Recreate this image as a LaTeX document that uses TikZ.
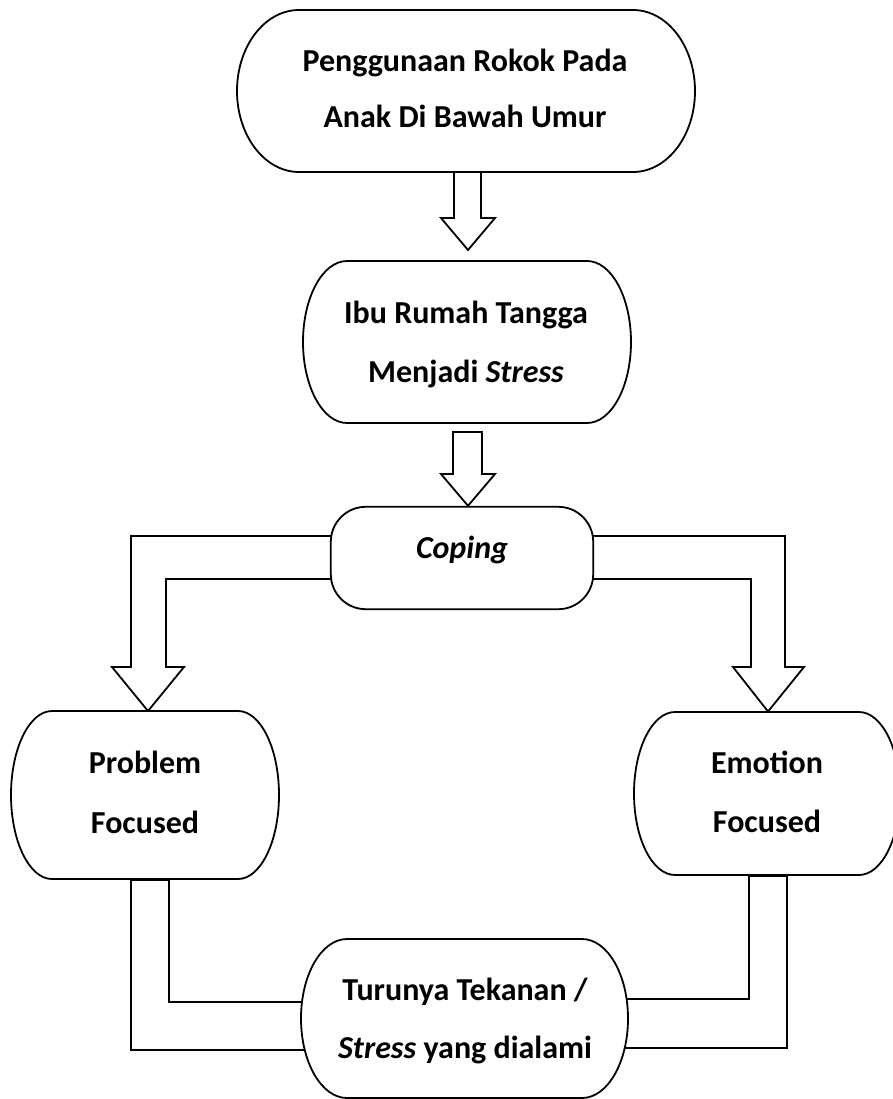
\documentclass[tikz,border=0pt]{standalone}
\usepackage{fontspec}
\setmainfont{Carlito}
\usetikzlibrary{calc}
\newcommand\capsule[4]{%
  \draw[boxline] ([shift={({-(#2)+(#4)},{#3})}]#1) -- ([shift={({(#2)-(#4)},{#3})}]#1)
    arc[start angle=90,end angle=-90,x radius=#4,y radius=#3]
    -- ([shift={({-(#2)+(#4)},{-(#3)})}]#1)
    arc[start angle=270,end angle=90,x radius=#4,y radius=#3] -- cycle;}
\begin{document}
\begin{tikzpicture}[x=1pt,y=1pt,
  ln/.style={line width=1.8pt, line join=miter},
  boxline/.style={ln, draw=black, fill=white},
  arrowshape/.style={ln, draw=black, fill=white},
  lbl/.style={font=\fontsize{32}{38}\selectfont\bfseries, inner sep=0pt, anchor=base},
]
\useasboundingbox (0,0) rectangle (892,-1099);
% box anchors
\coordinate (b1) at (466,-91);
\coordinate (b2) at (467,-342);
\node[minimum width=262pt, minimum height=102pt, inner sep=0pt] (cop) at (462,-558) {};
\coordinate (pf) at (145,-795);
\coordinate (ef) at (767,-793.5);
\coordinate (tb) at (464.5,-1018.5);

% block arrows
\draw[arrowshape] ($(b1)+(-12,-81)$) -- ($(b1)+(-12,-127)$) -- ($(b1)+(-25,-127)$)
  -- ($(b2)+(1,92)$) -- ($(b1)+(29,-127)$) -- ($(b1)+(15,-127)$) -- ($(b1)+(15,-81)$);
\draw[arrowshape] ($(b2)+(-14,-90)$) -- ($(b2)+(-14,-132)$) -- ($(b2)+(-26,-132)$)
  -- ($(cop.north)+(6,1)$) -- ($(b2)+(28,-132)$) -- ($(b2)+(15,-132)$) -- ($(b2)+(15,-90)$) -- cycle;
% elbow arrows from Coping
\draw[arrowshape] ($(cop.west)+(0,22)$) -| ($(pf)+(-14,128)$) -- ++(-19,0)
  -- ($(pf)+(3,84)$) -- ($(pf)+(39,128)$) -- ++(-18,0) |- ($(cop.west)+(0,-21)$);
\draw[arrowshape] ($(cop.east)+(0,22)$) -| ($(ef)+(18,126.5)$) -- ++(19,0)
  -- ($(ef)+(1,82)$) -- ($(ef)+(-34,126.5)$) -- ++(18,0) |- ($(cop.east)+(0,-21)$);
% connectors to the bottom box
\draw[arrowshape] ($(tb)+(-160,16.5)$) -| ($(pf)+(24,-85)$) -- ($(pf)+(-14,-85)$) |- ($(tb)+(-160,-31.5)$);
\draw[arrowshape] ($(tb)+(160,19.5)$) -| ($(ef)+(-18,-82.5)$) -- ($(ef)+(20,-82.5)$) |- ($(tb)+(160,-29.5)$);

% boxes
\capsule{b1}{229}{81}{62}
\capsule{b2}{164}{81}{44}
\draw[boxline, rounded corners=35pt] (cop.south west) rectangle (cop.north east);
\capsule{pf}{134}{84}{41}
\capsule{ef}{133}{81.5}{41}
\capsule{tb}{163.5}{79.5}{46}

% texts
\node[lbl] (t1a) at (465,-72) {Penggunaan Rokok Pada};
\node[lbl] (t1b) at (465,-128) {Anak Di Bawah Umur};
\node[lbl] (t2a) at (466,-323) {Ibu Rumah Tangga};
\node[lbl] (t2b) at (466,-382) {Menjadi \textit{Stress}};
\node[lbl] (t3) at (462,-558) {\textit{Coping}};
\node[lbl] (t4a) at (145,-773) {Problem};
\node[lbl] (t4b) at (145,-833) {Focused};
\node[lbl] (t5a) at (767,-773) {Emotion};
\node[lbl] (t5b) at (767,-832) {Focused};
\node[lbl] (t6a) at (465,-1000) {Turunya Tekanan /};
\node[lbl] (t6b) at (465,-1058) {\textit{Stress} yang dialami};
\end{tikzpicture}
\end{document}
